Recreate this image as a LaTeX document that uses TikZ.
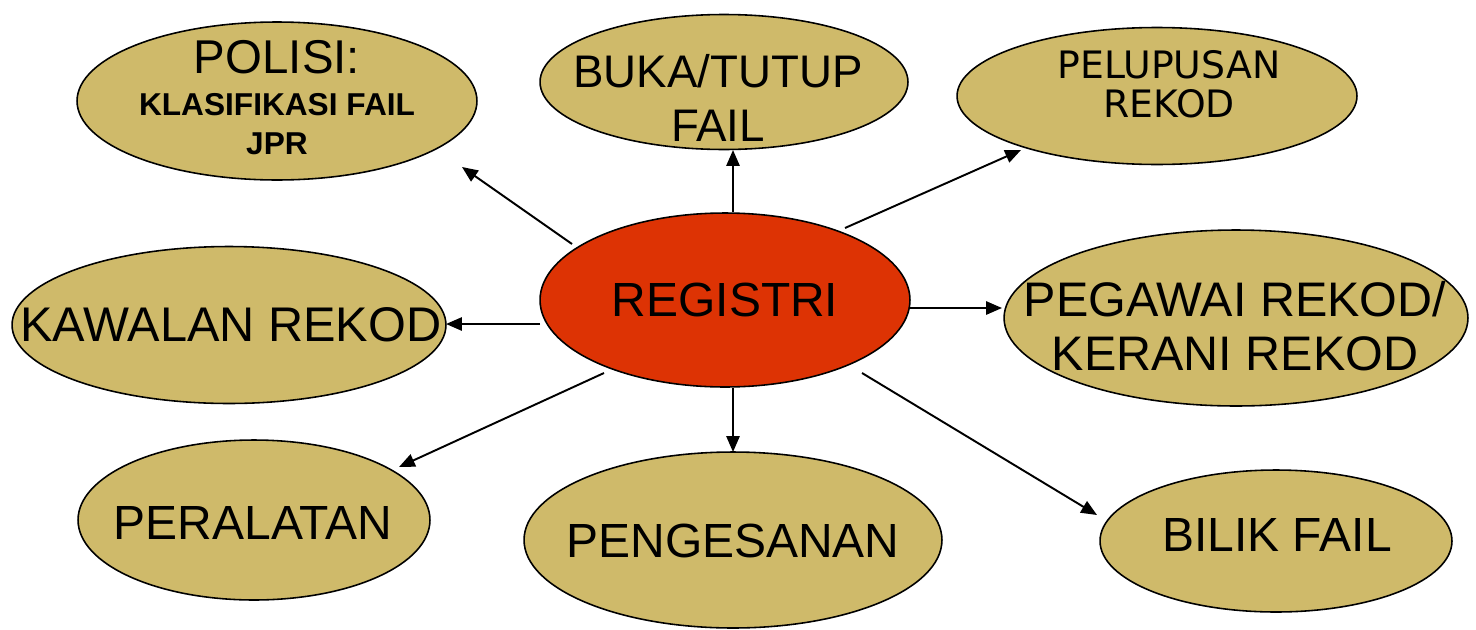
\documentclass[tikz,border=0pt]{standalone}
\usepackage{fontspec}
\setmainfont{Liberation Sans}
\newfontfamily\dejavu{DejaVu Sans}
\usetikzlibrary{shapes.geometric,arrows.meta}
\definecolor{gold}{HTML}{CFBA6A}
\definecolor{regred}{HTML}{DD3304}
\begin{document}
\begin{tikzpicture}[x=0.02cm,y=-0.02cm,
  bubble/.style={draw=black,line width=0.9pt,fill=gold,ellipse,inner sep=0pt},
  conn/.style={line width=1.1pt,-{Triangle[length=9pt,width=7.5pt]}},
  lbl/.style={align=center,inner sep=0pt,font=\fontsize{27.3}{32}\selectfont}]
\useasboundingbox (0,0) rectangle (1476,629);
% ellipses
\node[bubble,minimum width=8cm,minimum height=3.16cm] (pol) at (277,101) {};
\node[bubble,minimum width=7.36cm,minimum height=2.7cm] (buka) at (724,82) {};
\node[bubble,minimum width=8cm,minimum height=2.74cm] (pel) at (1157,96) {};
\node[draw=black,line width=0.9pt,fill=regred,ellipse,minimum width=7.4cm,minimum height=3.48cm] (reg) at (725,300) {};
\node[bubble,minimum width=8.68cm,minimum height=3.14cm] (kaw) at (229,325) {};
\node[bubble,minimum width=9.28cm,minimum height=3.52cm] (peg) at (1236,318) {};
\node[bubble,minimum width=7.04cm,minimum height=3.2cm] (per) at (254,520) {};
\node[bubble,minimum width=8.36cm,minimum height=3.52cm] (pen) at (733,540) {};
\node[bubble,minimum width=7.04cm,minimum height=2.84cm] (bil) at (1276,541) {};
% texts
\node[lbl,font=\fontsize{27}{32}\selectfont] (polt) at (277,57) {POLISI:};
\node[lbl,font=\bfseries\fontsize{18}{22}\selectfont] (polt2) at (277,124) {KLASIFIKASI FAIL\\JPR};
\node[lbl,font=\fontsize{26}{31}\selectfont] (bukat) at (718,98) {BUKA/TUTUP\\FAIL};
\node[lbl,font=\dejavu\fontsize{21.5}{22}\selectfont] (pelt) at (1169,84) {PELUPUSAN\\REKOD};
\node[lbl] (regt) at (725,300) {REGISTRI};
\node[lbl,font=\fontsize{27.7}{31}\selectfont] (kawt) at (231,325) {KAWALAN REKOD};
\node[lbl,font=\fontsize{27.6}{31}\selectfont] (pegt) at (1235,326) {PEGAWAI REKOD/\\KERANI REKOD};
\node[lbl] (pert) at (253,523) {PERALATAN};
\node[lbl] (pent) at (733,541) {PENGESANAN};
\node[lbl] (bilt) at (1277,535) {BILIK FAIL};
% arrow targets
\coordinate (tpol) at (462,167);
\coordinate (tbuka) at (733,150);
\coordinate (tpel) at (1021,150);
\coordinate (tkaw) at (446,324);
\coordinate (tpeg) at (1002,308);
\coordinate (tper) at (399,467);
\coordinate (tpen) at (733,452);
\coordinate (tbil) at (1097,515);
\coordinate (spol) at (572,244);
\coordinate (sbuka) at (733,212);
\coordinate (spel) at (845,228);
\coordinate (skaw) at (540,324);
\coordinate (speg) at (910,308);
\coordinate (sper) at (604,373);
\coordinate (spen) at (733,388);
\coordinate (sbil) at (862,373);
\draw[conn] (spol) -- (tpol);
\draw[conn] (sbuka) -- (tbuka);
\draw[conn] (spel) -- (tpel);
\draw[conn] (skaw) -- (tkaw);
\draw[conn] (speg) -- (tpeg);
\draw[conn] (sper) -- (tper);
\draw[conn] (spen) -- (tpen);
\draw[conn] (sbil) -- (tbil);
\end{tikzpicture}
\end{document}
